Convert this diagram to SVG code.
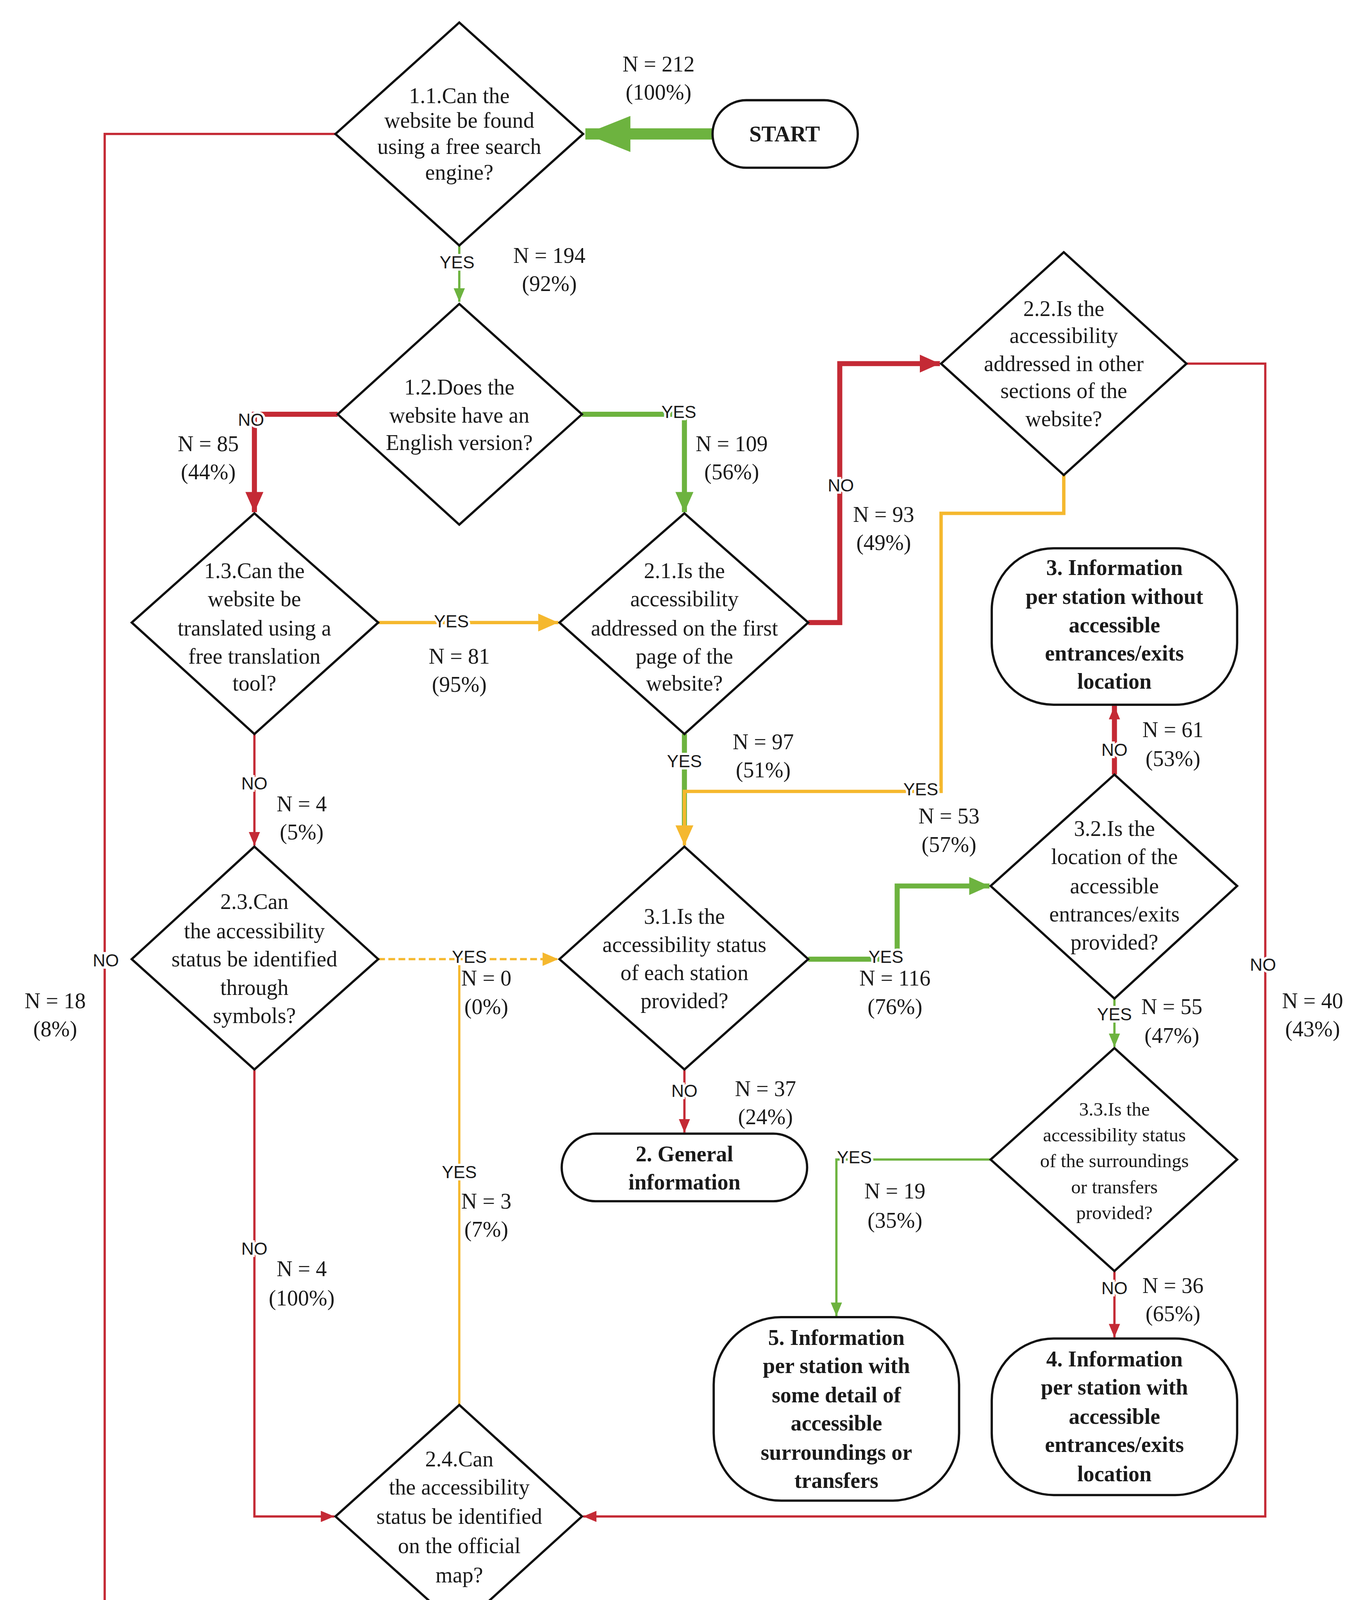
<svg xmlns="http://www.w3.org/2000/svg" width="3487" height="4520" viewBox="0 0 3487 4520">
<style>
.sh{fill:#fff;stroke:#111;stroke-width:2}
.t{font-family:"Liberation Serif",serif;font-size:19.5px;text-anchor:middle;dominant-baseline:central;fill:#1a1a1a}
.b{font-weight:bold}
.s{font-size:17px}
.l{font-family:"Liberation Sans",sans-serif;font-size:15.5px;text-anchor:middle;dominant-baseline:central;fill:#1a1a1a;stroke:#fff;stroke-width:4;paint-order:stroke}
.r{fill:none;stroke:#c42a35;stroke-width:2}
.R{fill:none;stroke:#c42a35;stroke-width:4.5}
.g{fill:none;stroke:#6db33f;stroke-width:2}
.G{fill:none;stroke:#6db33f;stroke-width:4.5}
.o{fill:none;stroke:#f5b82e;stroke-width:2}
.O{fill:none;stroke:#f5b82e;stroke-width:3}
</style>
<defs>
<marker id="ar" markerUnits="userSpaceOnUse" viewBox="0 0 12 10" refX="12" refY="5" markerWidth="12" markerHeight="10" orient="auto"><path d="M0,0L12,5L0,10z" fill="#c42a35"/></marker>
<marker id="aR" markerUnits="userSpaceOnUse" viewBox="0 0 18 16" refX="18" refY="8" markerWidth="18" markerHeight="16" orient="auto"><path d="M0,0L18,8L0,16z" fill="#c42a35"/></marker>
<marker id="ag" markerUnits="userSpaceOnUse" viewBox="0 0 12 10" refX="12" refY="5" markerWidth="12" markerHeight="10" orient="auto"><path d="M0,0L12,5L0,10z" fill="#6db33f"/></marker>
<marker id="aG" markerUnits="userSpaceOnUse" viewBox="0 0 18 16" refX="18" refY="8" markerWidth="18" markerHeight="16" orient="auto"><path d="M0,0L18,8L0,16z" fill="#6db33f"/></marker>
<marker id="aS" markerUnits="userSpaceOnUse" viewBox="0 0 40 32" refX="40" refY="16" markerWidth="40" markerHeight="32" orient="auto"><path d="M0,0L40,16L0,32z" fill="#6db33f"/></marker>
<marker id="ao" markerUnits="userSpaceOnUse" viewBox="0 0 14 12" refX="14" refY="6" markerWidth="14" markerHeight="12" orient="auto"><path d="M0,0L14,6L0,12z" fill="#f5b82e"/></marker>
<marker id="aO" markerUnits="userSpaceOnUse" viewBox="0 0 18 16" refX="18" refY="8" markerWidth="18" markerHeight="16" orient="auto"><path d="M0,0L18,8L0,16z" fill="#f5b82e"/></marker>
</defs>
<rect width="3487" height="4520" fill="#fff"/>
<g transform="scale(2.882)">
<g id="connectors">
<path d="M633,119H520" fill="none" stroke="#6db33f" stroke-width="10" marker-end="url(#aS)"/>
<path class="r" d="M298,119H93V1530H297" marker-end="url(#ar)"/>
<path class="g" d="M408,218V268" marker-end="url(#ag)"/>
<path class="R" d="M300,368H226V455" marker-end="url(#aR)"/>
<path class="G" d="M517,368H608V455" marker-end="url(#aG)"/>
<path class="O" d="M336,553H496" marker-end="url(#aO)"/>
<path class="r" d="M226,652V751" marker-end="url(#ar)"/>
<path class="R" d="M718,553H746V323H835" marker-end="url(#aR)"/>
<path class="G" d="M608,652V735"/>
<path class="O" d="M945,422V456H836V703H608V751" marker-end="url(#aO)"/>
<path class="r" d="M1054,323H1124V1347H518" marker-end="url(#ar)"/>
<path class="o" d="M336,852H496" stroke-dasharray="6,3" marker-end="url(#ao)"/>
<path class="o" d="M408,1248V852"/>
<path class="r" d="M226,950V1347H297" marker-end="url(#ar)"/>
<path class="G" d="M718,852H797V787H879" marker-end="url(#aG)"/>
<path class="r" d="M608,950V1006" marker-end="url(#ar)"/>
<path class="R" d="M990,688V627" marker-end="url(#ar)"/>
<path class="g" d="M990,887V930" marker-end="url(#ag)"/>
<path class="g" d="M880,1030H743V1169" marker-end="url(#ag)"/>
<path class="r" d="M990,1129V1188" marker-end="url(#ar)"/>
<path class="r" d="M408,1446V1512" marker-end="url(#ar)"/>
</g>
<g id="start"><rect class="sh" x="633" y="89" width="129" height="60" rx="30"/><text class="t b" x="697" y="119">START</text></g>
<g id="q11"><path class="sh" d="M408,20L518,119L408,218L298,119z"/><text class="t"><tspan x="408" y="85">1.1.Can the</tspan><tspan x="408" y="107">website be found</tspan><tspan x="408" y="130">using a free search</tspan><tspan x="408" y="153">engine?</tspan></text></g>
<g id="q12"><path class="sh" d="M408,270L517,368L408,466L300,368z"/><text class="t"><tspan x="408" y="344">1.2.Does the</tspan><tspan x="408" y="369">website have an</tspan><tspan x="408" y="393">English version?</tspan></text></g>
<g id="q13"><path class="sh" d="M226,456L336,553L226,652L117,553z"/><text class="t"><tspan x="226" y="507">1.3.Can the</tspan><tspan x="226" y="532">website be</tspan><tspan x="226" y="558">translated using a</tspan><tspan x="226" y="583">free translation</tspan><tspan x="226" y="607">tool?</tspan></text></g>
<g id="q21"><path class="sh" d="M608,456L718,553L608,652L497,553z"/><text class="t"><tspan x="608" y="507">2.1.Is the</tspan><tspan x="608" y="532">accessibility</tspan><tspan x="608" y="558">addressed on the first</tspan><tspan x="608" y="583">page of the</tspan><tspan x="608" y="607">website?</tspan></text></g>
<g id="q22"><path class="sh" d="M945,224L1054,323L945,422L836,323z"/><text class="t"><tspan x="945" y="274">2.2.Is the</tspan><tspan x="945" y="298">accessibility</tspan><tspan x="945" y="323">addressed in other</tspan><tspan x="945" y="347">sections of the</tspan><tspan x="945" y="372">website?</tspan></text></g>
<g id="r3"><rect class="sh" x="881" y="487" width="218" height="139" rx="55"/><text class="t b"><tspan x="990" y="504">3. Information</tspan><tspan x="990" y="530">per station without</tspan><tspan x="990" y="555">accessible</tspan><tspan x="990" y="580">entrances/exits</tspan><tspan x="990" y="605">location</tspan></text></g>
<g id="q32"><path class="sh" d="M990,688L1099,787L990,887L880,787z"/><text class="t"><tspan x="990" y="736">3.2.Is the</tspan><tspan x="990" y="761">location of the</tspan><tspan x="990" y="787">accessible</tspan><tspan x="990" y="812">entrances/exits</tspan><tspan x="990" y="837">provided?</tspan></text></g>
<g id="q31"><path class="sh" d="M608,752L718,852L608,950L497,852z"/><text class="t"><tspan x="608" y="814">3.1.Is the</tspan><tspan x="608" y="839">accessibility status</tspan><tspan x="608" y="864">of each station</tspan><tspan x="608" y="889">provided?</tspan></text></g>
<g id="q23"><path class="sh" d="M226,752L336,852L226,950L117,852z"/><text class="t"><tspan x="226" y="801">2.3.Can</tspan><tspan x="226" y="827">the accessibility</tspan><tspan x="226" y="852">status  be identified</tspan><tspan x="226" y="877">through</tspan><tspan x="226" y="902">symbols?</tspan></text></g>
<g id="r2"><rect class="sh" x="499" y="1007" width="218" height="60" rx="30"/><text class="t b"><tspan x="608" y="1025">2. General</tspan><tspan x="608" y="1050">information</tspan></text></g>
<g id="q33"><path class="sh" d="M990,931L1099,1030L990,1129L880,1030z"/><text class="t s"><tspan x="990" y="985">3.3.Is the</tspan><tspan x="990" y="1008">accessibility status</tspan><tspan x="990" y="1031">of the surroundings</tspan><tspan x="990" y="1054">or transfers</tspan><tspan x="990" y="1077">provided?</tspan></text></g>
<g id="r5"><rect class="sh" x="634" y="1170" width="218" height="163" rx="60"/><text class="t b"><tspan x="743" y="1188">5. Information</tspan><tspan x="743" y="1213">per station with</tspan><tspan x="743" y="1239">some detail of</tspan><tspan x="743" y="1264">accessible</tspan><tspan x="743" y="1290">surroundings or</tspan><tspan x="743" y="1315">transfers</tspan></text></g>
<g id="r4"><rect class="sh" x="881" y="1189" width="218" height="139" rx="55"/><text class="t b"><tspan x="990" y="1207">4. Information</tspan><tspan x="990" y="1232">per station with</tspan><tspan x="990" y="1258">accessible</tspan><tspan x="990" y="1283">entrances/exits</tspan><tspan x="990" y="1309">location</tspan></text></g>
<g id="q24"><path class="sh" d="M408,1248L517,1347L408,1446L298,1347z"/><text class="t"><tspan x="408" y="1296">2.4.Can</tspan><tspan x="408" y="1321">the accessibility</tspan><tspan x="408" y="1347">status be identified</tspan><tspan x="408" y="1373">on the official</tspan><tspan x="408" y="1399">map?</tspan></text></g>
<g id="r1"><rect class="sh" x="299" y="1513" width="218" height="36" rx="18"/><text class="t b" x="408" y="1531">1. No Information</text></g>
<g id="labels">
<text class="l" x="406" y="233">YES</text><text class="l" x="223" y="373">NO</text><text class="l" x="603" y="366">YES</text><text class="l" x="401" y="552">YES</text><text class="l" x="747" y="431">NO</text><text class="l" x="608" y="676">YES</text><text class="l" x="818" y="701">YES</text><text class="l" x="226" y="696">NO</text><text class="l" x="990" y="666">NO</text><text class="l" x="94" y="853">NO</text><text class="l" x="417" y="850">YES</text><text class="l" x="787" y="850">YES</text><text class="l" x="990" y="901">YES</text><text class="l" x="1122" y="857">NO</text><text class="l" x="608" y="969">NO</text><text class="l" x="408" y="1041">YES</text><text class="l" x="759" y="1028">YES</text><text class="l" x="226" y="1109">NO</text><text class="l" x="990" y="1144">NO</text><text class="l" x="408" y="1464">NO</text>
<text class="t"><tspan x="585" y="57">N = 212</tspan><tspan x="585" y="82">(100%)</tspan></text>
<text class="t"><tspan x="488" y="227">N = 194</tspan><tspan x="488" y="252">(92%)</tspan></text>
<text class="t"><tspan x="185" y="394">N = 85</tspan><tspan x="185" y="419">(44%)</tspan></text>
<text class="t"><tspan x="650" y="394">N = 109</tspan><tspan x="650" y="419">(56%)</tspan></text>
<text class="t"><tspan x="408" y="583">N = 81</tspan><tspan x="408" y="608">(95%)</tspan></text>
<text class="t"><tspan x="785" y="457">N = 93</tspan><tspan x="785" y="482">(49%)</tspan></text>
<text class="t"><tspan x="678" y="659">N = 97</tspan><tspan x="678" y="684">(51%)</tspan></text>
<text class="t"><tspan x="843" y="725">N = 53</tspan><tspan x="843" y="750">(57%)</tspan></text>
<text class="t"><tspan x="268" y="714">N = 4</tspan><tspan x="268" y="739">(5%)</tspan></text>
<text class="t"><tspan x="1042" y="648">N = 61</tspan><tspan x="1042" y="674">(53%)</tspan></text>
<text class="t"><tspan x="49" y="889">N = 18</tspan><tspan x="49" y="914">(8%)</tspan></text>
<text class="t"><tspan x="432" y="869">N = 0</tspan><tspan x="432" y="894">(0%)</tspan></text>
<text class="t"><tspan x="795" y="869">N = 116</tspan><tspan x="795" y="894">(76%)</tspan></text>
<text class="t"><tspan x="1041" y="894">N = 55</tspan><tspan x="1041" y="920">(47%)</tspan></text>
<text class="t"><tspan x="1166" y="889">N = 40</tspan><tspan x="1166" y="914">(43%)</tspan></text>
<text class="t"><tspan x="680" y="967">N = 37</tspan><tspan x="680" y="992">(24%)</tspan></text>
<text class="t"><tspan x="432" y="1067">N = 3</tspan><tspan x="432" y="1092">(7%)</tspan></text>
<text class="t"><tspan x="795" y="1058">N = 19</tspan><tspan x="795" y="1084">(35%)</tspan></text>
<text class="t"><tspan x="268" y="1127">N = 4</tspan><tspan x="268" y="1153">(100%)</tspan></text>
<text class="t"><tspan x="1042" y="1142">N = 36</tspan><tspan x="1042" y="1167">(65%)</tspan></text>
<text class="t"><tspan x="466" y="1461">N = 41</tspan><tspan x="466" y="1486">(93%)</tspan></text>
</g>
</g>
</svg>
